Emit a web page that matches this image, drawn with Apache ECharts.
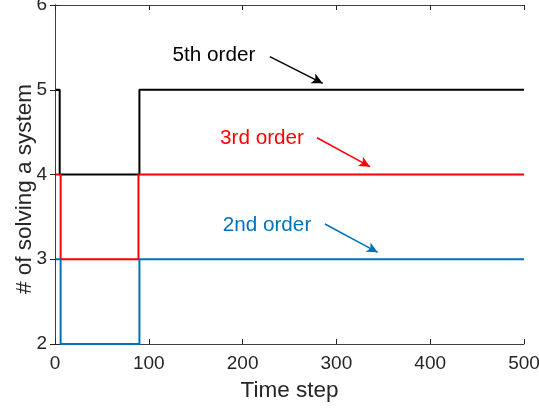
<!DOCTYPE html>
<html>
<head>
<meta charset="utf-8">
<script src="https://cdn.jsdelivr.net/npm/echarts@6/dist/echarts.min.js"></script>
<style>
  html, body { margin: 0; padding: 0; background: #fff; }
  #chart { width: 539px; height: 410px; }
</style>
</head>
<body>
<div id="chart"></div>
<script>
// Number of linear solves per time step, for each scheme order (step changes only)
const order5 = [[1, 5], [5, 4], [90, 5], [500, 5]];
const order3 = [[1, 4], [6, 3], [89, 4], [500, 4]];
const order2 = [[1, 3], [6, 2], [90, 3], [500, 3]];

const xTicks = [0, 100, 200, 300, 400, 500];
const yTicks = [2, 3, 4, 5, 6];

// Annotation labels and arrows, in data units
const labels = [
  { text: '5th order', at: [169.5, 5.41], color: '#000000' },
  { text: '3rd order', at: [220.7, 4.43], color: '#ff0000' },
  { text: '2nd order', at: [226, 3.40], color: '#0072bd' }
];
const arrows = [
  { from: [229, 5.39], to: [285.4, 5.076] },
  { from: [279.3, 4.434], to: [335.8, 4.092] },
  { from: [287.8, 3.416], to: [344, 3.082] }
];

const axisColor = '#262626';
const lineColor = '#404040';
const font = 'Liberation Sans, Arial, Helvetica, sans-serif';

function stepSeries(name, data, color, idx) {
  return {
    name: name,
    type: 'line',
    step: 'end',
    data: data,
    symbol: 'none',
    lineStyle: { color: color, width: 2 },
    z: 3,
    markLine: {
      silent: true,
      symbol: ['none', 'arrow'],
      symbolSize: [8, 11],
      lineStyle: { color: color, width: 1.5, type: 'solid' },
      label: { show: false },
      data: [[{ coord: arrows[idx].from }, { coord: arrows[idx].to }]]
    },
    markPoint: {
      silent: true,
      symbol: 'rect',
      symbolSize: 1,
      itemStyle: { color: 'transparent' },
      label: {
        show: true,
        position: 'inside',
        formatter: labels[idx].text,
        color: labels[idx].color,
        fontFamily: font,
        fontSize: 20.7
      },
      data: [{ coord: labels[idx].at }]
    }
  };
}

const chart = echarts.init(document.getElementById('chart'), null, { renderer: 'canvas' });

const baseX = {
  type: 'value', min: 0, max: 500, interval: 100,
  axisLine: { show: true, lineStyle: { color: lineColor, width: 1 } },
  axisTick: { show: true, inside: true, length: 5, lineStyle: { color: axisColor } },
  splitLine: { show: false }
};
const baseY = {
  type: 'value', min: 2, max: 6, interval: 1,
  axisLine: { show: true, lineStyle: { color: lineColor, width: 1 } },
  axisTick: { show: true, inside: true, length: 5, lineStyle: { color: axisColor } },
  splitLine: { show: false }
};

chart.setOption({
  animation: false,
  backgroundColor: '#ffffff',
  grid: {
    left: 55, right: 15, top: 5, bottom: 66,
    containLabel: false,
    outerBoundsMode: 'none'
  },
  xAxis: [
    Object.assign({}, baseX, {
      position: 'bottom',
      name: 'Time step',
      nameLocation: 'middle',
      nameGap: 35,
      nameTextStyle: { color: axisColor, fontFamily: font, fontSize: 22.5 },
      axisLabel: {
        color: axisColor, fontFamily: font, fontSize: 19, margin: 10,
        formatter: v => xTicks.includes(v) ? String(v) : ''
      }
    }),
    Object.assign({}, baseX, { position: 'top', axisLabel: { show: false } })
  ],
  yAxis: [
    Object.assign({}, baseY, {
      position: 'left',
      axisLabel: {
        color: axisColor, fontFamily: font, fontSize: 19, margin: 8,
        formatter: v => yTicks.includes(v) ? String(v) : ''
      }
    }),
    Object.assign({}, baseY, { position: 'right', axisLabel: { show: false } })
  ],
  graphic: [{
    type: 'text',
    x: 25,
    y: 189,
    rotation: Math.PI / 2,
    style: {
      text: '# of solving a system',
      fill: axisColor,
      font: '22.5px ' + font,
      align: 'center',
      verticalAlign: 'middle'
    }
  }],
  series: [
    stepSeries('5th order', order5, '#000000', 0),
    stepSeries('3rd order', order3, '#ff0000', 1),
    stepSeries('2nd order', order2, '#0072bd', 2)
  ]
});
</script>
</body>
</html>
